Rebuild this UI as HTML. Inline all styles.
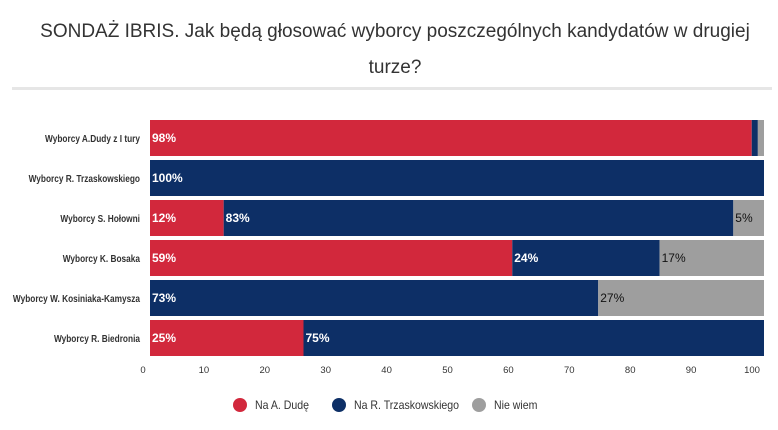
<!DOCTYPE html>
<html><head><meta charset="utf-8"><style>
body{margin:0;width:778px;height:430px;background:#fff;font-family:"Liberation Sans",sans-serif;overflow:hidden}
#title{position:absolute;left:0;top:14px;width:790px;text-align:center;font-size:19px;line-height:36px;color:#333}
#sep{position:absolute;left:12px;top:87px;width:760px;height:3px;background:#e6e6e6}
</style></head><body>
<div id="title">SONDAŻ IBRIS. Jak będą głosować wyborcy poszczególnych kandydatów w drugiej<br>turze?</div>
<div id="sep"></div>
<svg id="chart" width="778" height="430" style="position:absolute;left:0;top:0"></svg>
<script>
const categories=["Wyborcy A.Dudy z I tury","Wyborcy R. Trzaskowskiego","Wyborcy S. Hołowni","Wyborcy K. Bosaka","Wyborcy W. Kosiniaka-Kamysza","Wyborcy R. Biedronia"];
const dudaValues=[98,0,12,59,0,25];
const trzValues=[1,100,83,24,73,75];
const unsureValues=[1,0,5,17,27,0];
const seriesNames=["Na A. Dudę","Na R. Trzaskowskiego","Nie wiem"];
const tickValues=[0,10,20,30,40,50,60,70,80,90,100];
const colors=["#d2283c","#0d2f66","#9e9e9e"];
const NS="http://www.w3.org/2000/svg";
const svg=document.getElementById("chart");
const xBar=v=>150+v*6.14;
const xTick=v=>143+v*6.09;
const yRow=i=>120+i*40;
function mk(t,a){const e=document.createElementNS(NS,t);for(const k in a)e.setAttribute(k,a[k]);svg.appendChild(e);return e;}
function squeeze(t,f){const w=t.getComputedTextLength();t.setAttribute("textLength",w*f);t.setAttribute("lengthAdjust","spacingAndGlyphs");}
const series=[dudaValues,trzValues,unsureValues];
categories.forEach((c,i)=>{
  const lab=mk("text",{x:140,y:yRow(i)+22,"text-anchor":"end","font-size":"10.5",fill:"#333","font-weight":"bold"});
  lab.textContent=c;
  
  
  squeeze(lab,0.79);
  let acc=0;
  series.forEach((s,k)=>{
    const v=s[i];if(!v)return;
    const r=mk("rect",{x:xBar(acc),y:yRow(i),width:xBar(acc+v)-xBar(acc),height:36,fill:colors[k]});
    
    
    if(v>=3){
      const t=mk("text",{x:xBar(acc)+2,y:yRow(i)+22,"font-size":"12","font-weight":k<2?"bold":"normal",fill:k<2?"#fff":"#111"});
      t.textContent=v+"%";
      
      
    }
    acc+=v;
  });
});
tickValues.forEach(v=>{
  const t=mk("text",{x:xTick(v),y:373,"text-anchor":"middle","font-size":"9.5",fill:"#333"});
  t.textContent=v;
  
  
});
const legX=[240,339,479];
seriesNames.forEach((n,k)=>{
  const c=mk("circle",{cx:legX[k],cy:405,r:7,fill:colors[k]});
  
  
  const t=mk("text",{x:legX[k]+15,y:409,"font-size":"12",fill:"#333"});
  t.textContent=n;
  
  
  squeeze(t,0.88);
});
</script>
</body></html>
